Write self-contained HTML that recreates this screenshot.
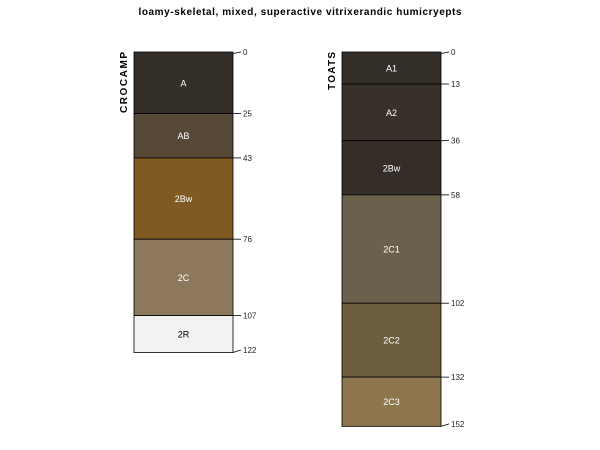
<!DOCTYPE html>
<html><head><meta charset="utf-8"><style>
html,body{margin:0;padding:0;background:#fff}
svg{display:block;font-family:"Liberation Sans",sans-serif}
</style></head><body>
<svg id="chart" width="600" height="450" viewBox="0 0 600 450">
<text x="300" y="15" text-anchor="middle" font-size="10" font-weight="bold" textLength="323" lengthAdjust="spacing">loamy-skeletal, mixed, superactive vitrixerandic humicryepts</text>
</svg>
<script>
const profileNames = ["CROCAMP", "TOATS"];
const crocampHorizons = ["A", "AB", "2Bw", "2C", "2R"];
const crocampDepths = [0, 25, 43, 76, 107, 122];
const crocampColors = ["#352f29", "#554837", "#7f5a22", "#8e785d", "#f2f2f2"];
const toatsHorizons = ["A1", "A2", "2Bw", "2C1", "2C2", "2C3"];
const toatsDepths = [0, 13, 36, 58, 102, 132, 152];
const toatsColors = ["#352f29", "#38302a", "#342d28", "#6b604b", "#6e5e40", "#8d764d"];

const svg = document.getElementById('chart');
const NS = 'http://www.w3.org/2000/svg';
const top0 = 52, scale = 2.463;
const yOf = d => top0 + d * scale;
function mk(tag, attrs){const e=document.createElementNS(NS,tag);for(const k in attrs)e.setAttribute(k,attrs[k]);svg.appendChild(e);return e;}

function drawProfile(idx, x0, horizons, depths, colors){
  const w = 99;
  const last = depths.length - 1;
  for(let i=0;i<horizons.length;i++){
    const y1=yOf(depths[i]), y2=yOf(depths[i+1]);
    const r=mk('rect',{x:x0,y:y1,width:w,height:y2-y1,fill:colors[i],stroke:'#000','stroke-width':0.8});
    
    
    const t=mk('text',{x:x0+w/2,y:(y1+y2)/2+3.5,'text-anchor':'middle','font-size':9,fill:(colors[i]==='#f2f2f2'?'#000':'#fff')});
    t.textContent=horizons[i];
    
    
  }
  for(let j=0;j<depths.length;j++){
    const y=yOf(depths[j]);
    const yEnd = j===0 ? y : (j===last ? y-2.5 : y);
    const l=mk('line',{x1:x0+w,y1:(j===0?y+1.5:y),x2:x0+w+8,y2:yEnd,stroke:'#000','stroke-width':0.8});
    
    
    const t=mk('text',{x:x0+w+10,y:yEnd+3,'font-size':8,fill:'#222'});
    t.textContent=depths[j];
    
    
  }
  const n=mk('text',{x:0,y:0,'font-size':10,'font-weight':'bold','text-anchor':'end',transform:'translate('+(x0-7)+','+(top0)+') rotate(-90)'});
  n.setAttribute('textLength', idx===0 ? 61 : 38);
  n.setAttribute('lengthAdjust', 'spacing');
  n.textContent=profileNames[idx];
  
  
}
drawProfile(0, 134, crocampHorizons, crocampDepths, crocampColors);
drawProfile(1, 342, toatsHorizons, toatsDepths, toatsColors);
</script>
</body></html>
